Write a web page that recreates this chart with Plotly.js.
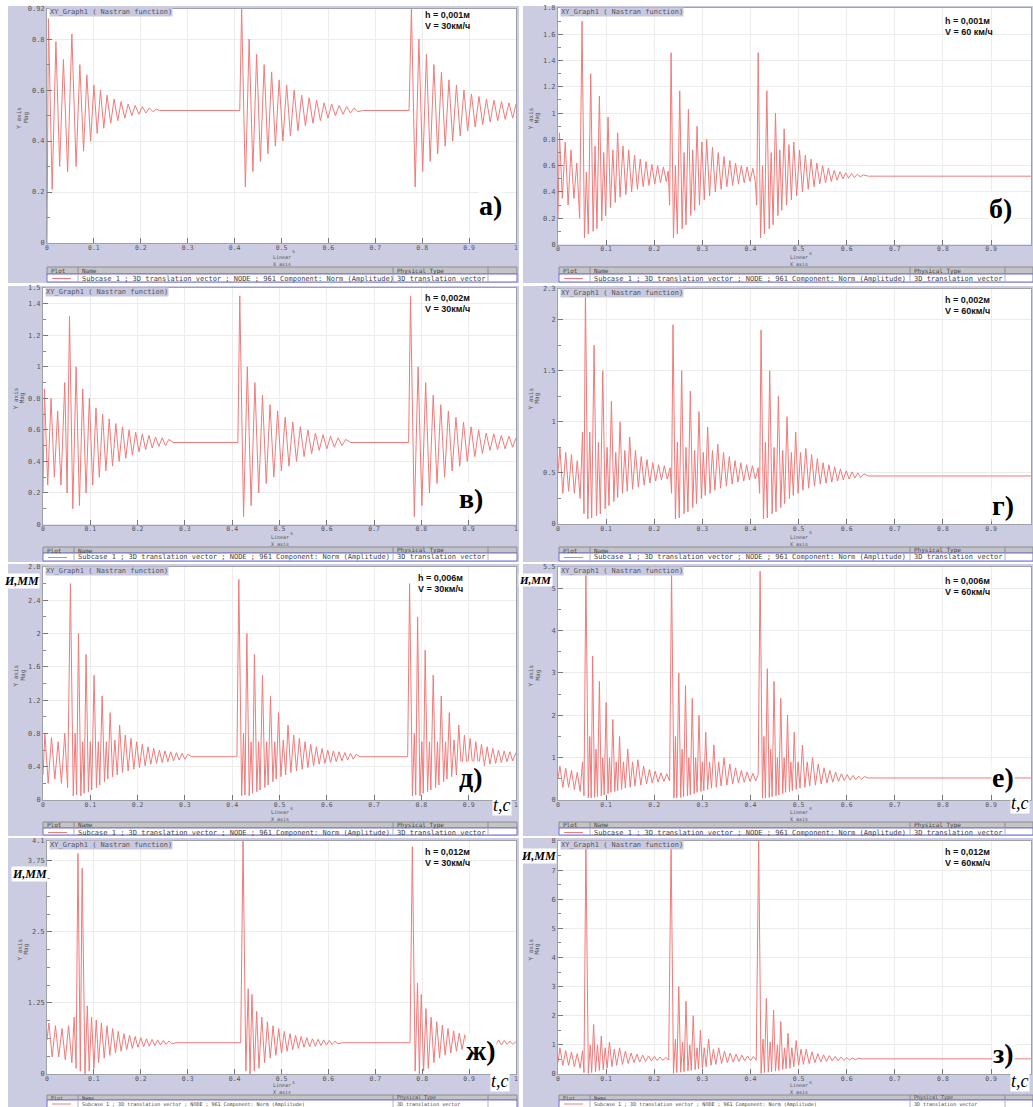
<!DOCTYPE html>
<html><head><meta charset="utf-8">
<script src="https://cdn.plot.ly/plotly-3.0.1.min.js"></script>
<style>html,body{margin:0;padding:0;background:#fff}#chart{width:1033px;height:1107px}</style>
</head><body><div id="chart"></div>
<script>
// ---------- DATA (t [s], amplitude [mm]): extrema of each trace ----------
const seriesA = [[0,0],[0.003,0.88],[0.011,0.21],[0.019,0.79],[0.027,0.30],[0.035,0.72],[0.044,0.28],[0.053,0.82],[0.062,0.30],[0.070,0.70],[0.078,0.36],[0.085,0.66],[0.093,0.40],[0.100,0.62],[0.107,0.43],[0.114,0.60],[0.121,0.45],[0.128,0.58],[0.136,0.47],[0.143,0.565],[0.151,0.48],[0.158,0.555],[0.166,0.49],[0.173,0.545],[0.181,0.50],[0.188,0.54],[0.196,0.505],[0.203,0.535],[0.211,0.51],[0.218,0.53],[0.226,0.515],[0.233,0.525],[0.240,0.52],[0.411,0.52],
[0.415,0.92],[0.423,0.22],[0.431,0.80],[0.439,0.28],[0.447,0.74],[0.455,0.32],[0.463,0.70],[0.471,0.35],[0.479,0.67],[0.487,0.38],[0.495,0.64],[0.503,0.40],[0.511,0.62],[0.519,0.42],[0.527,0.60],[0.535,0.44],[0.543,0.58],[0.551,0.46],[0.559,0.57],[0.567,0.47],[0.575,0.56],[0.583,0.48],[0.591,0.55],[0.599,0.49],[0.607,0.545],[0.615,0.50],[0.623,0.54],[0.631,0.505],[0.639,0.535],[0.647,0.51],[0.655,0.53],[0.663,0.515],[0.673,0.52],[0.772,0.52],
[0.777,0.92],[0.785,0.22],[0.793,0.80],[0.801,0.28],[0.809,0.74],[0.817,0.32],[0.825,0.70],[0.833,0.35],[0.841,0.67],[0.849,0.38],[0.857,0.64],[0.865,0.40],[0.873,0.62],[0.881,0.42],[0.889,0.60],[0.897,0.44],[0.905,0.585],[0.913,0.455],[0.921,0.575],[0.929,0.465],[0.937,0.565],[0.945,0.475],[0.953,0.56],[0.961,0.48],[0.969,0.555],[0.977,0.485],[0.985,0.55],[0.993,0.49],[1.0,0.545]];

const seriesB = [[0,0.2],[0.003,0.85],[0.009,0.35],[0.015,0.78],[0.021,0.3],[0.027,0.72],[0.033,0.35],[0.039,0.62],[0.045,0.2],[0.050,1.70],[0.055,0.05],[0.059,0.55],[0.063,0.08],[0.068,1.30],[0.073,0.1],[0.077,0.75],[0.081,0.12],[0.086,1.13],[0.091,0.18],[0.095,0.7],[0.099,0.22],[0.104,0.97],[0.109,0.28],[0.114,0.72],[0.119,0.32],[0.124,0.85],[0.129,0.36],[0.135,0.75],[0.141,0.38],[0.147,0.72],[0.153,0.40],[0.159,0.68],[0.165,0.42],[0.171,0.65],[0.177,0.44],[0.183,0.63],[0.189,0.45],[0.195,0.61],[0.201,0.46],[0.207,0.6],[0.213,0.47],[0.219,0.59],[0.225,0.48],[0.229,0.56],
[0.232,0.3],[0.235,1.46],[0.240,0.05],[0.244,0.6],[0.248,0.08],[0.253,1.17],[0.258,0.12],[0.262,0.7],[0.266,0.15],[0.271,1.03],[0.276,0.22],[0.280,0.72],[0.284,0.26],[0.289,0.9],[0.294,0.3],[0.299,0.78],[0.304,0.34],[0.309,0.8],[0.315,0.37],[0.321,0.74],[0.327,0.40],[0.333,0.7],[0.339,0.42],[0.345,0.67],[0.351,0.44],[0.357,0.64],[0.363,0.45],[0.369,0.62],[0.375,0.46],[0.381,0.6],[0.387,0.47],[0.393,0.59],[0.399,0.48],[0.405,0.58],[0.410,0.48],
[0.413,0.3],[0.416,1.46],[0.421,0.05],[0.425,0.6],[0.429,0.08],[0.434,1.17],[0.439,0.12],[0.443,0.7],[0.447,0.15],[0.452,1.0],[0.457,0.22],[0.461,0.72],[0.465,0.26],[0.470,0.88],[0.475,0.3],[0.480,0.76],[0.485,0.34],[0.490,0.78],[0.496,0.37],[0.502,0.72],[0.508,0.40],[0.514,0.68],[0.520,0.42],[0.526,0.65],[0.532,0.44],[0.538,0.62],[0.544,0.46],[0.550,0.6],[0.556,0.47],[0.562,0.58],[0.568,0.48],[0.574,0.565],[0.580,0.49],[0.586,0.555],[0.592,0.50],[0.598,0.545],[0.604,0.505],[0.610,0.54],[0.616,0.51],[0.622,0.535],[0.628,0.515],[0.635,0.53],[0.645,0.52],[0.985,0.52]];

const seriesC = [[0,0.2],[0.003,0.86],[0.010,0.25],[0.017,0.80],[0.024,0.3],[0.031,0.72],[0.038,0.25],[0.046,0.9],[0.051,0.2],[0.056,1.32],[0.063,0.1],[0.070,1.0],[0.077,0.12],[0.084,0.86],[0.091,0.2],[0.098,0.80],[0.105,0.25],[0.112,0.74],[0.119,0.3],[0.126,0.7],[0.133,0.34],[0.140,0.67],[0.147,0.37],[0.154,0.64],[0.161,0.4],[0.168,0.62],[0.175,0.42],[0.182,0.6],[0.189,0.44],[0.196,0.585],[0.203,0.46],[0.210,0.575],[0.217,0.475],[0.224,0.565],[0.231,0.485],[0.238,0.555],[0.245,0.495],[0.252,0.55],[0.259,0.5],[0.266,0.54],[0.275,0.52],[0.412,0.52],
[0.416,1.45],[0.424,0.05],[0.432,1.0],[0.440,0.12],[0.448,0.9],[0.456,0.2],[0.464,0.82],[0.472,0.26],[0.480,0.76],[0.488,0.3],[0.496,0.72],[0.504,0.34],[0.512,0.68],[0.520,0.37],[0.528,0.65],[0.536,0.4],[0.544,0.62],[0.552,0.43],[0.560,0.6],[0.568,0.45],[0.576,0.58],[0.584,0.47],[0.592,0.57],[0.600,0.48],[0.608,0.56],[0.616,0.49],[0.624,0.55],[0.632,0.5],[0.640,0.54],[0.650,0.52],[0.773,0.52],
[0.777,1.45],[0.785,0.05],[0.793,1.0],[0.801,0.12],[0.809,0.9],[0.817,0.2],[0.825,0.82],[0.833,0.26],[0.841,0.76],[0.849,0.3],[0.857,0.72],[0.865,0.34],[0.873,0.68],[0.881,0.37],[0.889,0.65],[0.897,0.4],[0.905,0.62],[0.913,0.43],[0.921,0.6],[0.929,0.45],[0.937,0.58],[0.945,0.47],[0.953,0.575],[0.961,0.475],[0.969,0.565],[0.977,0.48],[0.985,0.56],[0.993,0.49],[1.0,0.55]];

const seriesD = [[0,0.5],[0.004,0.75],[0.010,0.3],[0.016,0.7],[0.022,0.32],[0.028,0.68],[0.034,0.3],[0.040,0.62],[0.046,0.25],[0.051,0.9],[0.054,0.1],[0.057,2.3],[0.062,0.05],[0.066,0.9],[0.070,0.06],[0.075,1.75],[0.080,0.08],[0.084,0.8],[0.088,0.1],[0.093,1.5],[0.098,0.15],[0.102,0.75],[0.106,0.18],[0.111,1.2],[0.116,0.22],[0.120,0.7],[0.124,0.26],[0.129,1.0],[0.134,0.3],[0.139,0.72],[0.144,0.32],[0.149,0.85],[0.155,0.34],[0.161,0.72],[0.167,0.36],[0.173,0.66],[0.179,0.38],[0.185,0.63],[0.191,0.4],[0.197,0.6],[0.203,0.42],[0.209,0.58],[0.215,0.43],[0.221,0.57],[0.227,0.44],[0.233,0.55],
[0.236,0.3],[0.239,1.95],[0.244,0.05],[0.248,0.8],[0.252,0.06],[0.257,1.5],[0.262,0.1],[0.266,0.75],[0.270,0.12],[0.275,1.3],[0.280,0.16],[0.284,0.72],[0.288,0.2],[0.293,1.1],[0.298,0.25],[0.302,0.7],[0.306,0.28],[0.311,0.95],[0.316,0.3],[0.321,0.72],[0.326,0.33],[0.332,0.78],[0.338,0.35],[0.344,0.7],[0.350,0.37],[0.356,0.66],[0.362,0.39],[0.368,0.62],[0.374,0.41],[0.380,0.6],[0.386,0.42],[0.392,0.58],[0.398,0.43],[0.404,0.57],[0.410,0.44],[0.416,0.55],
[0.419,0.3],[0.422,1.9],[0.427,0.05],[0.431,0.8],[0.435,0.06],[0.440,1.5],[0.445,0.1],[0.449,0.75],[0.453,0.12],[0.458,1.25],[0.463,0.16],[0.467,0.72],[0.471,0.2],[0.476,1.05],[0.481,0.25],[0.485,0.7],[0.489,0.28],[0.494,0.9],[0.499,0.3],[0.504,0.7],[0.509,0.33],[0.515,0.74],[0.521,0.35],[0.527,0.68],[0.533,0.37],[0.539,0.64],[0.545,0.39],[0.551,0.6],[0.557,0.4],[0.563,0.58],[0.569,0.41],[0.575,0.56],[0.581,0.42],[0.587,0.54],[0.593,0.43],[0.599,0.52],[0.605,0.44],[0.611,0.51],[0.617,0.45],[0.623,0.5],[0.629,0.455],[0.636,0.49],[0.645,0.47],[0.985,0.47]];

const seriesE = [[0,0.3],[0.004,0.8],[0.011,0.2],[0.018,0.75],[0.025,0.25],[0.032,0.7],[0.039,0.2],[0.046,0.8],[0.052,0.15],[0.058,2.6],[0.064,0.05],[0.068,0.8],[0.071,0.06],[0.075,2.0],[0.080,0.05],[0.084,0.7],[0.087,0.08],[0.091,1.75],[0.096,0.1],[0.100,0.7],[0.103,0.12],[0.108,1.5],[0.113,0.15],[0.117,0.7],[0.120,0.18],[0.125,1.25],[0.130,0.22],[0.134,0.7],[0.137,0.25],[0.142,1.05],[0.147,0.28],[0.152,0.72],[0.157,0.3],[0.162,0.9],[0.168,0.33],[0.174,0.78],[0.180,0.35],[0.186,0.74],[0.192,0.37],[0.198,0.7],[0.204,0.39],[0.210,0.67],[0.216,0.41],[0.222,0.64],[0.228,0.43],[0.234,0.62],[0.240,0.44],[0.246,0.6],[0.252,0.45],[0.258,0.59],[0.264,0.46],[0.270,0.58],[0.276,0.47],[0.282,0.57],[0.288,0.48],[0.294,0.56],[0.300,0.49],[0.306,0.55],[0.315,0.52],[0.410,0.52],
[0.414,2.65],[0.420,0.05],[0.424,0.8],[0.427,0.06],[0.431,2.0],[0.436,0.05],[0.440,0.7],[0.443,0.08],[0.447,1.75],[0.452,0.1],[0.456,0.7],[0.459,0.12],[0.464,1.5],[0.469,0.15],[0.473,0.7],[0.476,0.18],[0.481,1.25],[0.486,0.22],[0.490,0.7],[0.493,0.25],[0.498,1.05],[0.503,0.28],[0.508,0.72],[0.513,0.3],[0.518,0.9],[0.524,0.33],[0.530,0.78],[0.536,0.35],[0.542,0.74],[0.548,0.37],[0.554,0.7],[0.560,0.39],[0.566,0.67],[0.572,0.41],[0.578,0.64],[0.584,0.43],[0.590,0.62],[0.596,0.44],[0.602,0.6],[0.608,0.45],[0.614,0.59],[0.620,0.46],[0.626,0.58],[0.632,0.47],[0.638,0.57],[0.644,0.48],[0.650,0.56],[0.656,0.49],[0.662,0.55],[0.670,0.52],[0.771,0.52],
[0.775,2.6],[0.781,0.05],[0.785,0.8],[0.788,0.06],[0.792,2.2],[0.797,0.05],[0.801,0.7],[0.804,0.08],[0.808,1.8],[0.813,0.1],[0.817,0.7],[0.820,0.12],[0.825,1.5],[0.830,0.15],[0.834,0.7],[0.837,0.18],[0.842,1.25],[0.847,0.22],[0.851,0.7],[0.854,0.25],[0.859,1.05],[0.864,0.28],[0.869,0.72],[0.874,0.3],[0.879,0.9],[0.885,0.33],[0.891,0.78],[0.897,0.35],[0.903,0.74],[0.909,0.37],[0.915,0.7],[0.921,0.39],[0.927,0.67],[0.933,0.41],[0.939,0.64],[0.945,0.43],[0.951,0.62],[0.957,0.44],[0.963,0.6],[0.969,0.45],[0.975,0.59],[0.981,0.46],[0.987,0.58],[0.993,0.47],[1.0,0.57]];

const seriesF = [[0,0.5],[0.004,0.8],[0.010,0.3],[0.016,0.75],[0.022,0.3],[0.028,0.7],[0.034,0.25],[0.040,0.65],[0.046,0.2],[0.051,0.9],[0.054,0.1],[0.058,5.4],[0.063,0.05],[0.066,1.5],[0.069,0.05],[0.072,3.4],[0.076,0.06],[0.079,1.2],[0.082,0.08],[0.086,2.8],[0.090,0.1],[0.093,1.0],[0.096,0.12],[0.100,2.3],[0.104,0.15],[0.107,1.0],[0.110,0.18],[0.114,1.9],[0.118,0.2],[0.121,0.9],[0.124,0.22],[0.128,1.5],[0.132,0.25],[0.136,0.9],[0.140,0.28],[0.145,1.2],[0.150,0.3],[0.155,0.9],[0.160,0.33],[0.166,0.95],[0.172,0.35],[0.178,0.8],[0.184,0.38],[0.190,0.72],[0.196,0.4],[0.202,0.68],[0.208,0.42],[0.214,0.64],[0.220,0.44],[0.226,0.62],[0.232,0.45],
[0.236,5.4],[0.241,0.05],[0.244,1.5],[0.247,0.05],[0.251,3.0],[0.255,0.06],[0.258,1.2],[0.261,0.08],[0.265,2.7],[0.269,0.1],[0.272,1.0],[0.275,0.12],[0.279,2.4],[0.283,0.15],[0.286,1.0],[0.289,0.18],[0.293,2.0],[0.297,0.2],[0.300,0.9],[0.303,0.22],[0.307,1.6],[0.311,0.25],[0.315,0.9],[0.319,0.28],[0.324,1.3],[0.329,0.3],[0.334,0.9],[0.339,0.33],[0.345,1.0],[0.351,0.35],[0.357,0.85],[0.363,0.38],[0.369,0.76],[0.375,0.4],[0.381,0.7],[0.387,0.42],[0.393,0.66],[0.399,0.44],[0.405,0.63],[0.411,0.45],[0.416,0.6],
[0.420,5.4],[0.425,0.05],[0.428,1.5],[0.431,0.05],[0.435,3.1],[0.439,0.06],[0.442,1.2],[0.445,0.08],[0.449,2.8],[0.453,0.1],[0.456,1.0],[0.459,0.12],[0.463,2.4],[0.467,0.15],[0.470,1.0],[0.473,0.18],[0.477,2.0],[0.481,0.2],[0.484,0.9],[0.487,0.22],[0.491,1.6],[0.495,0.25],[0.499,0.9],[0.503,0.28],[0.508,1.3],[0.513,0.3],[0.518,0.9],[0.523,0.33],[0.529,1.0],[0.535,0.35],[0.541,0.85],[0.547,0.38],[0.553,0.76],[0.559,0.4],[0.565,0.7],[0.571,0.42],[0.577,0.66],[0.583,0.44],[0.589,0.62],[0.595,0.46],[0.601,0.6],[0.607,0.47],[0.613,0.58],[0.619,0.48],[0.625,0.56],[0.631,0.49],[0.637,0.55],[0.645,0.52],[0.985,0.52]];

const seriesG = [[0,0.6],[0.004,0.9],[0.011,0.3],[0.018,0.85],[0.025,0.3],[0.032,0.8],[0.039,0.25],[0.046,0.85],[0.053,0.2],[0.058,1.0],[0.062,0.1],[0.066,3.88],[0.071,0.05],[0.075,3.62],[0.081,0.0],[0.086,1.2],[0.090,0.05],[0.095,1.0],[0.100,0.1],[0.105,0.95],[0.110,0.2],[0.116,0.9],[0.122,0.28],[0.128,0.85],[0.134,0.33],[0.140,0.8],[0.146,0.37],[0.152,0.75],[0.158,0.4],[0.164,0.71],[0.170,0.43],[0.176,0.68],[0.182,0.45],[0.188,0.66],[0.194,0.47],[0.200,0.64],[0.206,0.48],[0.212,0.62],[0.218,0.49],[0.224,0.61],[0.230,0.5],[0.236,0.6],[0.242,0.51],[0.248,0.59],[0.254,0.52],[0.260,0.58],[0.266,0.53],[0.275,0.55],[0.413,0.55],
[0.418,4.1],[0.424,0.05],[0.429,1.5],[0.433,0.0],[0.437,1.4],[0.442,0.05],[0.447,1.1],[0.452,0.1],[0.458,1.0],[0.464,0.2],[0.470,0.92],[0.476,0.28],[0.482,0.85],[0.488,0.33],[0.494,0.8],[0.500,0.37],[0.506,0.75],[0.512,0.4],[0.518,0.71],[0.524,0.43],[0.530,0.68],[0.536,0.45],[0.542,0.66],[0.548,0.47],[0.554,0.64],[0.560,0.48],[0.566,0.62],[0.572,0.49],[0.578,0.61],[0.584,0.5],[0.590,0.6],[0.596,0.51],[0.602,0.59],[0.608,0.52],[0.614,0.58],[0.620,0.53],[0.630,0.55],[0.774,0.55],
[0.779,4.0],[0.785,0.05],[0.790,1.6],[0.794,0.0],[0.798,1.4],[0.803,0.05],[0.808,1.15],[0.813,0.1],[0.819,1.0],[0.825,0.2],[0.831,0.92],[0.837,0.28],[0.843,0.86],[0.849,0.33],[0.855,0.8],[0.861,0.37],[0.867,0.76],[0.873,0.4],[0.879,0.72],[0.885,0.43],[0.891,0.69],[0.897,0.45],[0.903,0.67],[0.909,0.47],[0.915,0.65],[0.921,0.48],[0.927,0.63],[0.933,0.49],[0.939,0.62],[0.945,0.5],[0.951,0.61],[0.957,0.51],[0.963,0.6],[0.969,0.51],[0.975,0.59],[0.981,0.52],[0.987,0.58],[0.993,0.52],[1.0,0.57]];

const seriesH = [[0,0.4],[0.004,0.9],[0.010,0.3],[0.016,0.8],[0.022,0.3],[0.028,0.75],[0.034,0.25],[0.040,0.7],[0.046,0.2],[0.051,0.8],[0.054,0.05],[0.058,8.0],[0.063,0.02],[0.067,1.0],[0.070,0.05],[0.074,1.7],[0.078,0.08],[0.082,1.0],[0.086,0.12],[0.090,1.3],[0.094,0.15],[0.098,0.9],[0.102,0.2],[0.107,1.1],[0.112,0.25],[0.117,0.85],[0.122,0.3],[0.128,0.9],[0.134,0.33],[0.140,0.78],[0.146,0.36],[0.152,0.72],[0.158,0.39],[0.164,0.68],[0.170,0.41],[0.176,0.65],[0.182,0.43],[0.188,0.62],[0.194,0.45],[0.200,0.6],[0.206,0.46],[0.212,0.58],[0.218,0.47],[0.224,0.57],[0.230,0.48],
[0.235,7.9],[0.240,0.02],[0.244,1.2],[0.247,0.05],[0.251,3.0],[0.255,0.06],[0.259,1.1],[0.262,0.08],[0.266,2.5],[0.270,0.1],[0.274,1.0],[0.277,0.12],[0.281,2.0],[0.285,0.15],[0.289,0.9],[0.292,0.18],[0.296,1.5],[0.300,0.2],[0.304,0.9],[0.308,0.25],[0.313,1.2],[0.318,0.3],[0.323,0.85],[0.328,0.33],[0.334,0.9],[0.340,0.36],[0.346,0.78],[0.352,0.39],[0.358,0.72],[0.364,0.41],[0.370,0.68],[0.376,0.43],[0.382,0.65],[0.388,0.45],[0.394,0.62],[0.400,0.46],[0.406,0.6],[0.412,0.47],
[0.417,8.0],[0.422,0.02],[0.426,1.2],[0.429,0.05],[0.433,2.6],[0.437,0.06],[0.441,1.1],[0.444,0.08],[0.448,2.2],[0.452,0.1],[0.456,1.0],[0.459,0.12],[0.463,1.8],[0.467,0.15],[0.471,0.9],[0.474,0.18],[0.478,1.4],[0.482,0.2],[0.486,0.9],[0.490,0.25],[0.495,1.15],[0.500,0.3],[0.505,0.85],[0.510,0.33],[0.516,0.85],[0.522,0.36],[0.528,0.76],[0.534,0.39],[0.540,0.7],[0.546,0.41],[0.552,0.66],[0.558,0.43],[0.564,0.63],[0.570,0.45],[0.576,0.6],[0.582,0.46],[0.588,0.58],[0.594,0.47],[0.600,0.56],[0.606,0.48],[0.612,0.55],[0.618,0.49],[0.624,0.54],[0.632,0.52],[0.985,0.52]];

// tick labels
const xTickVals = [0,0.1,0.2,0.3,0.4,0.5,0.6,0.7,0.8,0.9,1];
const xTickText = ['0','0.1','0.2','0.3','0.4','0.5','0.6','0.7','0.8','0.9','1'];
const xUnit = 's';
const yValsA=[0,0.2,0.4,0.6,0.8,0.92], yTextA=['0','0.2','0.4','0.6','0.8','0.92'], yMinA=[0.1,0.3,0.5,0.7];
const yValsB=[0,0.2,0.4,0.6,0.8,1,1.2,1.4,1.6,1.8], yTextB=['0','0.2','0.4','0.6','0.8','1','1.2','1.4','1.6','1.8'], yMinB=[0.1,0.3,0.5,0.7,0.9,1.1,1.3,1.5,1.7];
const yValsC=[0,0.2,0.4,0.6,0.8,1,1.2,1.4,1.5], yTextC=['0','0.2','0.4','0.6','0.8','1','1.2','1.4','1.5'], yMinC=[0.1,0.3,0.5,0.7,0.9,1.1,1.3];
const yValsD=[0,0.5,1,1.5,2,2.3], yTextD=['0','0.5','1','1.5','2','2.3'], yMinD=[0.25,0.75,1.25,1.75];
const yValsE=[0,0.4,0.8,1.2,1.6,2,2.4,2.8], yTextE=['0','0.4','0.8','1.2','1.6','2','2.4','2.8'], yMinE=[0.2,0.6,1.0,1.4,1.8,2.2,2.6];
const yValsF=[0,1,2,3,4,5,5.5], yTextF=['0','1','2','3','4','5','5.5'], yMinF=[0.5,1.5,2.5,3.5,4.5];
const yValsG=[0,1.25,2.5,3.75,4.1], yTextG=['0','1.25','2.5','3.75','4.1'], yMinG=[0.3125,0.625,0.9375,1.5625,1.875,2.1875,2.8125,3.125,3.4375];
const yValsH=[0,1,2,3,4,5,6,7,8], yTextH=['0','1','2','3','4','5','6','7','8'], yMinH=[0.5,1.5,2.5,3.5,4.5,5.5,6.5,7.5];

const panelLetters = ['а)','б)','в)','г)','д)','е)','ж)','з)'];
const hTexts = ['h = 0,001м','h = 0,001м','h = 0,002м','h = 0,002м','h = 0,006м','h = 0,006м','h = 0,012м','h = 0,012м'];
const vTexts = ['V = 30км/ч','V = 60 км/ч','V = 30км/ч','V = 60км/ч','V = 30км/ч','V = 60км/ч','V = 30км/ч','V = 60км/ч'];
const graphTag = 'XY_Graph1 ( Nastran function)';
const legendHeader = ['Plot','Name','Physical Type'];
const legendName = 'Subcase 1 ; 3D translation vector ; NODE ; 961 Component: Norm (Amplitude)';
const legendType = '3D translation vector';

// ---------- LAYOUT (pixel geometry) ----------
const W=1033,H=1107;
const fx=p=>p/W, fy=p=>1-p/H;
const RED='#f07a7a', LAV='#cbcce2';
const panels = [
 {s:seriesA,yv:yValsA,yt:yTextA,ym:yMinA,ymax:0.92,x0:47,x1:516,y0:8.5,y1:243,xmax:1,col:0,row:0,lp:[490,206],hp:[424,15]},
 {s:seriesB,yv:yValsB,yt:yTextB,ym:yMinB,ymax:1.8,x0:558,x1:1031,y0:8,y1:244.5,xmax:0.983,col:1,row:0,lp:[1000,208],hp:[944,21]},
 {s:seriesC,yv:yValsC,yt:yTextC,ym:yMinC,ymax:1.5,x0:43,x1:516,y0:288,y1:524.5,xmax:1,col:0,row:1,lp:[471,498],hp:[424,298]},
 {s:seriesD,yv:yValsD,yt:yTextD,ym:yMinD,ymax:2.3,x0:558,x1:1031,y0:289,y1:524,xmax:0.983,col:1,row:1,lp:[1003,505],hp:[944,300]},
 {s:seriesE,yv:yValsE,yt:yTextE,ym:yMinE,ymax:2.8,x0:43,x1:516,y0:567,y1:800,xmax:1,col:0,row:2,lp:[471,777],hp:[417,578]},
 {s:seriesF,yv:yValsF,yt:yTextF,ym:yMinF,ymax:5.5,x0:558,x1:1031,y0:567,y1:800,xmax:0.983,col:1,row:2,lp:[1003,777],hp:[944,581]},
 {s:seriesG,yv:yValsG,yt:yTextG,ym:yMinG,ymax:4.1,x0:47,x1:516,y0:841,y1:1074,xmax:1,col:0,row:3,lp:[481,1050],hp:[424,852]},
 {s:seriesH,yv:yValsH,yt:yTextH,ym:yMinH,ymax:8,x0:558,x1:1031,y0:841,y1:1074,xmax:0.983,col:1,row:3,lp:[1003,1053],hp:[944,852]}
];
const lavRows=[[6,283],[286,562],[564,836],[838,1110]];
const lavCols=[[8,519],[523,1034]];
const tabRows=[[267,274,282],[547,553,561],[822,828,835],[1095,1100,1110]];

const shapes=[], ann=[];
function rect(x0,y0,x1,y1,fill,lc,lw){shapes.push({type:'rect',xref:'paper',yref:'paper',x0:fx(x0),x1:fx(x1),y0:fy(y1),y1:fy(y0),fillcolor:fill,line:{color:lc||fill,width:lw||0},layer:'below'});}
function line(x0,y0,x1,y1,c,w){shapes.push({type:'line',xref:'paper',yref:'paper',x0:fx(x0),x1:fx(x1),y0:fy(y0),y1:fy(y1),line:{color:c,width:w||1},layer:'below'});}
function text(t,x,y,opt){ann.push(Object.assign({text:t,xref:'paper',yref:'paper',x:fx(x),y:fy(y),showarrow:false,xanchor:'left',yanchor:'middle',font:{family:'DejaVu Sans Mono, monospace',size:7,color:'#444'},borderpad:0},opt||{}));}

lavRows.forEach(r=>lavCols.forEach(c=>rect(c[0],r[0],c[1],r[1],LAV)));

const traces=[]; const layout={width:W,height:H,margin:{l:0,r:0,t:0,b:0},paper_bgcolor:'#fff',plot_bgcolor:'#fff',showlegend:false,hovermode:false,shapes:shapes,annotations:ann};
const MONO='DejaVu Sans Mono, monospace';
panels.forEach((p,i)=>{
  const sx=i?String(i+1):'';
  rect(p.x0,p.y0,p.x1,p.y1,'#ffffff');
  traces.push({type:'scatter',mode:'lines',x:p.s.map(d=>d[0]),y:p.s.map(d=>d[1]),xaxis:'x'+sx,yaxis:'y'+sx,line:{color:RED,width:1},cliponaxis:true});
  layout['xaxis'+sx]={domain:[fx(p.x0),fx(p.x1)],range:[0,p.xmax],anchor:'y'+sx,tickmode:'array',tickvals:xTickVals,ticktext:xTickText,ticks:'inside',ticklen:5,tickcolor:'#777',ticklabelstandoff:-2,showline:true,mirror:true,linecolor:'#a0a0a8',linewidth:1,showgrid:true,gridcolor:'#ececec',zeroline:false,tickfont:{family:MONO,size:6.5,color:'#555'},fixedrange:true};
  layout['yaxis'+sx]={domain:[fy(p.y1),fy(p.y0)],range:[0,p.ymax],anchor:'x'+sx,tickmode:'array',tickvals:p.yv,ticktext:p.yt,ticks:'inside',ticklen:5,tickcolor:'#777',showline:true,mirror:true,linecolor:'#a0a0a8',linewidth:1,showgrid:true,gridcolor:'#ececec',zeroline:false,tickfont:{family:MONO,size:7,color:'#555'},minor:{tickmode:'array',tickvals:p.ym,ticks:'inside',ticklen:3,tickcolor:'#888',showgrid:false},fixedrange:true};
  // graph tag
  text(graphTag,p.x0+2,p.y0+4,{bgcolor:'#c9cae2',font:{family:MONO,size:7,color:'#555'}});
  // axis titles
  const tr=tabRows[p.row];
  const x05=p.x0+(p.x1-p.x0)*0.5/p.xmax;
  text(xUnit,x05+9,p.y1+8,{font:{family:MONO,size:5,color:'#555'}});
  text('Linear',x05,tr[0]-10,{xanchor:'center',font:{family:MONO,size:5,color:'#555'}});
  text('X axis',x05,tr[0]-3.5,{xanchor:'center',font:{family:MONO,size:5,color:'#555'}});
  const ymid=(p.y0+p.y1)/2;
  text('Y axis',p.x0-28,ymid-8,{xanchor:'center',textangle:-90,font:{family:MONO,size:6,color:'#555'}});
  text('Mag',p.x0-21,ymid-8,{xanchor:'center',textangle:-90,font:{family:MONO,size:6,color:'#555'}});
  // h, V
  text('<b>'+hTexts[i]+'</b>',p.hp[0],p.hp[1],{font:{family:'Liberation Sans, Arial, sans-serif',size:9,color:'#111'}});
  text('<b>'+vTexts[i]+'</b>',p.hp[0],p.hp[1]+11,{font:{family:'Liberation Sans, Arial, sans-serif',size:9,color:'#111'}});
  // panel letter
  text('<b>'+panelLetters[i]+'</b>',p.lp[0],p.lp[1],{xanchor:'center',bgcolor:'#ffffff',font:{family:'Liberation Serif, Times New Roman, serif',size:28,color:'#000'}});
  // legend table
  const tx0=p.col?559:p.x0, tx1=p.col?1033:517;
  const d1=tx0+31, d2=p.col?910:393, d3=p.col?1005:488;
  const last=p.row===3;
  rect(tx0,tr[0],tx1,tr[1],'#c4c4c6','#8c8c92',1);
  rect(tx0,tr[1],tx1,tr[2],'#ffffff','#6e6ed8',1);
  [d1,d2,d3].forEach(d=>{line(d,tr[0],d,tr[1],'#8c8c92',1);line(d,tr[1],d,tr[2],'#b0b0c8',1);});
  const fsH=last?5:6, fsR=last?5:7;
  const hdMid=last?1097.5:(tr[0]+tr[1])/2;
  const rowMid=last?1104:tr[1]+4.5;
  text(legendHeader[0],tx0+3,hdMid,{font:{family:MONO,size:fsH,color:'#444'}});
  text(legendHeader[1],d1+3,hdMid,{font:{family:MONO,size:fsH,color:'#444'}});
  text(legendHeader[2],d2+3,hdMid,{font:{family:MONO,size:fsH,color:'#444'}});
  line(tx0+5,rowMid,tx0+24,rowMid,RED,1);
  text(legendName,d1+3,rowMid,{font:{family:MONO,size:fsR,color:'#444'}});
  text(legendType,d2+3,rowMid,{font:{family:MONO,size:fsR,color:'#444'}});
});
// t,c and И,ММ labels
const tcPos=[[502,805],[1020,803],[500,1081],[1020,1081]];
tcPos.forEach(q=>text('<i>t,c</i>',q[0],q[1],{xanchor:'center',bgcolor:'#ffffff',font:{family:'Liberation Serif, Times New Roman, serif',size:18,color:'#000'}}));
const imPos=[[21,581,12],[535,580,11],[29,874,12],[538,856,12]];
imPos.forEach(q=>text('<b><i>И,ММ</i></b>',q[0],q[1],{xanchor:'center',bgcolor:'#ffffff',font:{family:'Liberation Serif, Times New Roman, serif',size:q[2],color:'#000'}}));

Plotly.newPlot('chart',traces,layout,{staticPlot:true,displayModeBar:false});
</script></body></html>
